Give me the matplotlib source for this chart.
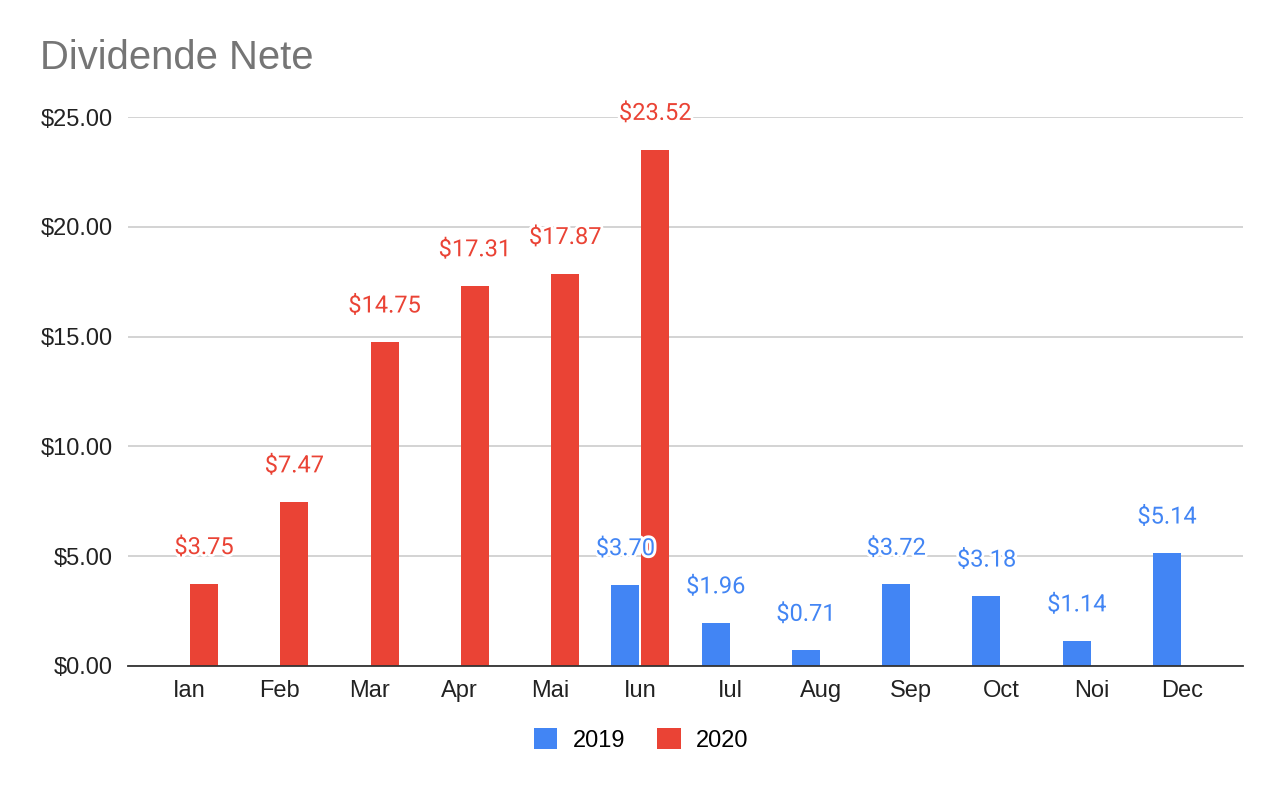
import matplotlib
matplotlib.use("Agg")
import matplotlib.pyplot as plt
import matplotlib.patheffects as pe
from matplotlib.patches import Patch
import numpy as np

months = ["Ian", "Feb", "Mar", "Apr", "Mai", "Iun", "Iul", "Aug", "Sep", "Oct", "Noi", "Dec"]
vals_2019 = [None, None, None, None, None, 3.70, 1.96, 0.71, 3.72, 3.18, 1.14, 5.14]
vals_2020 = [3.75, 7.47, 14.75, 17.31, 17.87, 23.52, None, None, None, None, None, None]
series_names = ["2019", "2020"]
yticks = [0, 5, 10, 15, 20, 25]

blue = "#4285F4"
red = "#EA4335"

fig = plt.figure(figsize=(12.82, 7.92), dpi=100)
ax = fig.add_axes([128 / 1282, 1 - 666 / 792, (1243 - 128) / 1282, (666 - 117) / 792])

x = np.arange(len(months))
width = 0.31
offset = 0.166

for vals, color, sign in [(vals_2019, blue, -1), (vals_2020, red, 1)]:
    for i, v in enumerate(vals):
        if v is None:
            continue
        ax.bar(x[i] + sign * offset, v, width=width, color=color, zorder=3)
        ax.annotate(f"${v:.2f}", (x[i] + sign * offset, v), xytext=(0, 26),
                    textcoords="offset points", ha="center", va="center",
                    fontsize=17, family="Roboto", color=color, zorder=5,
                    annotation_clip=False,
                    path_effects=[pe.withStroke(linewidth=4, foreground="white")])

ax.set_xlim(-0.676, 11.676)
ax.set_ylim(0, 25)
ax.set_yticks(yticks)
ax.set_yticklabels([f"${t:.2f}" for t in yticks], family="Liberation Sans", fontsize=17, color="#222222")
ax.set_xticks(x)
ax.set_xticklabels(months, family="Liberation Sans", fontsize=17, color="#222222")
ax.tick_params(axis="both", length=0)
ax.tick_params(axis="y", pad=11)
ax.tick_params(axis="x", pad=10)
ax.grid(axis="y", color="#cccccc", linewidth=1.2, zorder=0)
for s in ["top", "right", "left"]:
    ax.spines[s].set_visible(False)
ax.spines["bottom"].set_color("#333333")
ax.spines["bottom"].set_linewidth(1.3)
ax.spines["bottom"].set_zorder(4)

fig.text(40 / 1282, 1 - 58 / 792, "Dividende Nete", family="Liberation Sans",
         fontsize=28.8, color="#757575", va="center", ha="left")

handles = [Patch(facecolor=blue, label=series_names[0]), Patch(facecolor=red, label=series_names[1])]
fig.legend(handles=handles, loc="center", bbox_to_anchor=(0.5, 1 - 740 / 792), ncol=2,
           frameon=False, prop={"family": "Liberation Sans", "size": 17},
           handlelength=1.0, handleheight=1.0, handletextpad=0.65, columnspacing=1.35)

fig.savefig("out.png", dpi=100)
